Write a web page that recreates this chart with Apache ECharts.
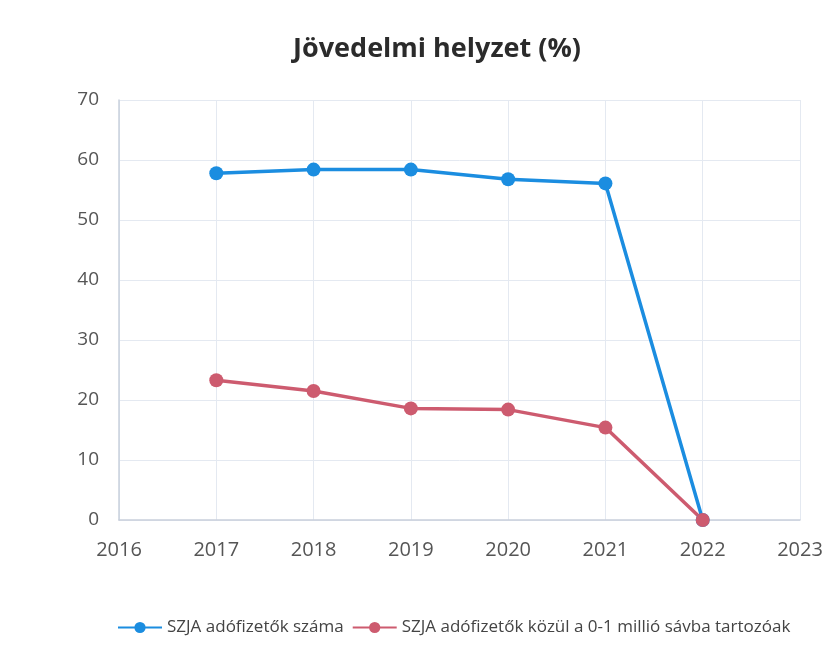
<!DOCTYPE html>
<html>
<head>
<meta charset="utf-8">
<script src="https://cdn.jsdelivr.net/npm/echarts@6/dist/echarts.min.js"></script>
<style>html,body{margin:0;padding:0;background:#fff;}#c{width:838px;height:663px;}</style>
</head>
<body>
<div id="c"></div>
<script>
const years = [2017, 2018, 2019, 2020, 2021, 2022];
const seriesNames = ['SZJA adófizetők száma', 'SZJA adófizetők közül a 0-1 millió sávba tartozóak'];
const szjaFizetok = [57.8, 58.4, 58.4, 56.8, 56.1, 0];
const szjaSav01 = [23.3, 21.5, 18.6, 18.4, 15.4, 0];
const yTicks = [0, 10, 20, 30, 40, 50, 60, 70];
const xRange = [2016, 2023];

const chart = echarts.init(document.getElementById('c'), null, {renderer: 'canvas'});
const pair = (arr) => years.map((y, i) => [y, arr[i]]);
chart.setOption({
  backgroundColor: '#ffffff',
  animation: false,
  title: {
    text: 'Jövedelmi helyzet (%)',
    left: 432, top: 31, textAlign: 'center',
    textStyle: {fontFamily: 'Open Sans', fontWeight: 'bold', fontSize: 27, color: '#2b2b2b'}
  },
  legend: {
    data: seriesNames,
    left: 112, top: 614,
    itemWidth: 44, itemHeight: 14, itemGap: 8,
    textStyle: {fontFamily: 'Open Sans', fontSize: 17, color: '#444'}
  },
  grid: {left: 119, right: 38, top: 100, bottom: 143},
  xAxis: {
    type: 'value', min: xRange[0], max: xRange[1], interval: 1,
    axisLine: {show: true, lineStyle: {color: '#c9d0dc', width: 1.5}},
    axisTick: {show: false},
    splitLine: {show: true, lineStyle: {color: '#e4e9f1', width: 1}},
    axisLabel: {formatter: v => String(v), fontFamily: 'Open Sans', fontSize: 20, color: '#555', margin: 20}
  },
  yAxis: {
    type: 'value', min: yTicks[0], max: yTicks[yTicks.length - 1], interval: 10,
    axisLine: {show: true, lineStyle: {color: '#c9d0dc', width: 1.5}},
    axisTick: {show: false},
    splitLine: {show: true, lineStyle: {color: '#e4e9f1', width: 1}},
    axisLabel: {fontFamily: 'Open Sans', fontSize: 19, color: '#555', margin: 20}
  },
  series: [
    {
      name: seriesNames[0], type: 'line', data: pair(szjaFizetok),
      symbol: 'circle', symbolSize: 14, clip: false,
      lineStyle: {color: '#1b8de0', width: 3.5},
      itemStyle: {color: '#1b8de0'}
    },
    {
      name: seriesNames[1], type: 'line', data: pair(szjaSav01),
      symbol: 'circle', symbolSize: 14, clip: false,
      lineStyle: {color: '#cd5b6f', width: 3.5},
      itemStyle: {color: '#cd5b6f'}
    }
  ]
});
</script>
</body>
</html>
